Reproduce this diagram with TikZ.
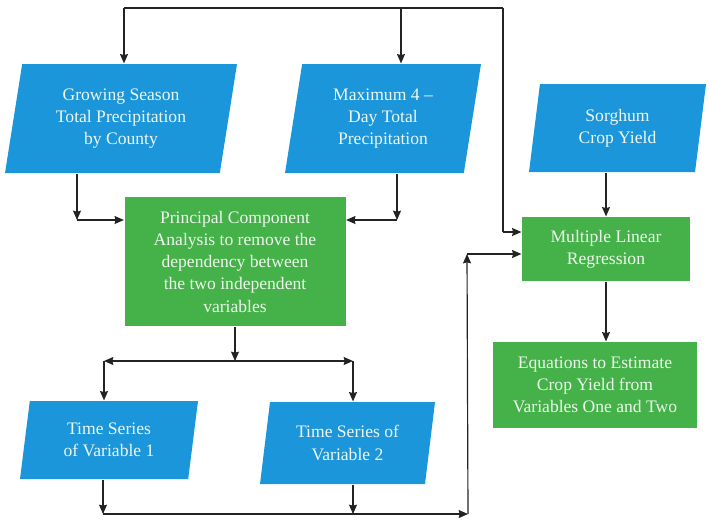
\documentclass[tikz,border=0pt]{standalone}
\usepackage{fontspec}
\setmainfont{Liberation Serif}
\usetikzlibrary{arrows.meta,shapes.geometric}
\definecolor{ColData}{RGB}{28,150,218}
\definecolor{ColStep}{RGB}{68,178,72}
\definecolor{ColText}{RGB}{238,246,238}
\definecolor{ColLine}{RGB}{35,35,35}
\newcommand{\pxl}[1]{#1*0.03cm}

\begin{document}
\begin{tikzpicture}[
  x=0.03cm, y=-0.03cm,
  >={Stealth[length=2.8mm,width=2.4mm,inset=0.3mm]},
  line width=1pt,
  every node/.style={font=\fontsize{15}{19}\selectfont, text=ColText, align=center},
  datanode/.style={trapezium, trapezium left angle=74, trapezium right angle=106,
    trapezium stretches body, fill=ColData, inner sep=0pt},
  stepnode/.style={rectangle, fill=ColStep, inner sep=0pt},
  link/.style={draw=ColLine}
]
  \useasboundingbox (0,0) rectangle (709,519);

  % Input data
  \node[datanode, minimum width=\pxl{232}, minimum height=\pxl{109}] (season) at (121,118.5)
    {Growing Season\\Total Precipitation\\by County};
  \node[datanode, minimum width=\pxl{196}, minimum height=\pxl{109}] (maxday) at (383,118.5)
    {Maximum 4 –\\Day Total\\Precipitation};
  \node[datanode, minimum width=\pxl{177}, minimum height=\pxl{88}] (sorghum) at (617.5,128)
    {Sorghum\\Crop Yield};

  % Processing steps
  \node[stepnode, minimum width=\pxl{221}, minimum height=\pxl{129}] (pca) at (235,261.5)
    {Principal Component\\Analysis to remove the\\dependency between\\the two independent\\variables};
  \node[stepnode, minimum width=\pxl{168}, minimum height=\pxl{64}] (mlr) at (606,249)
    {Multiple Linear\\Regression};
  \node[stepnode, minimum width=\pxl{204}, minimum height=\pxl{86}] (eqn) at (595,385)
    {Equations to Estimate\\Crop Yield from\\Variables One and Two};

  % Derived series
  \node[datanode, minimum width=\pxl{178}, minimum height=\pxl{78}] (series1) at (109,440)
    {Time Series\\of Variable 1};
  \node[datanode, minimum width=\pxl{175}, minimum height=\pxl{82}] (series2) at (347.5,443)
    {Time Series of\\Variable 2};

  % Junction points
  \coordinate (bus) at (503,8);
  \coordinate (busA) at (124,8);
  \coordinate (busB) at (401,8);
  \coordinate (busC) at (503,232);
  \coordinate (joinA) at (77,220);
  \coordinate (joinB) at (397,220);
  \coordinate (split) at (235,361);
  \coordinate (splitA) at (104,361);
  \coordinate (splitB) at (353,361);
  \coordinate (baseA) at (103,514);
  \coordinate (baseB) at (353,514);
  \coordinate (baseC) at (468,514);
  \coordinate (baseD) at (467,254);

  % Connectors
  \draw[link] (bus) -- (busA);
  \draw[link, ->] (busA) -- (busA |- season.north);
  \draw[link, ->] (busB) -- (busB |- maxday.north);
  \draw[link] (bus) -- (busC);
  \draw[link, ->] (busC) -- (busC -| mlr.west);
  \draw[link, ->] (joinA |- season.south) -- (joinA);
  \draw[link, ->] (joinA) -- (joinA -| pca.west);
  \draw[link, ->] (joinB |- maxday.south) -- (joinB);
  \draw[link, ->] (joinB) -- (joinB -| pca.east);
  \draw[link, ->] (mlr.north |- sorghum.south) -- (mlr.north);
  \draw[link, ->] (mlr.south) -- (mlr.south |- eqn.north);
  \draw[link, ->] (pca.south) -- (split);
  \draw[link, ->] (split) -- (splitA);
  \draw[link, ->] (split) -- (splitB);
  \draw[link, ->] (splitA) -- (splitA |- series1.north);
  \draw[link, ->] (splitB) -- (splitB |- series2.north);
  \draw[link, ->] (baseA |- series1.south) -- (baseA);
  \draw[link, ->] (baseB |- series2.south) -- (baseB);
  \draw[link, ->] (baseA) -- (baseC);
  \draw[link, ->] (baseC) -- (baseD);
  \draw[link, ->] (baseD) -- (baseD -| mlr.west);
\end{tikzpicture}
\end{document}
